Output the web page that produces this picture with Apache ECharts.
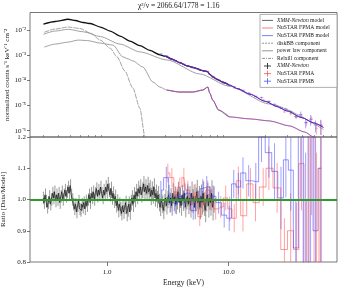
<!DOCTYPE html>
<html><head><meta charset="utf-8">
<script src="https://cdn.jsdelivr.net/npm/echarts@6/dist/echarts.min.js"></script>
<style>html,body{margin:0;padding:0;background:#fff}#c{width:344px;height:291px}</style>
</head><body><div id="c"></div>
<script>
// ---------------- data (energies in keV, fluxes as log10 of normalized counts) ----------------
const xmmModelE    = [0.30,0.375,0.48,0.55,0.64,0.73,0.88,1.06,1.28,1.54,1.86,2.25,2.72,3.0,3.5,4.0,4.5,5.0,5.5,6.0,6.4,6.7,7.0,7.5,8.0,9.0,10];
const xmmModelLogF = [-1.75,-1.65,-1.56,-1.61,-1.69,-1.73,-1.87,-2.03,-2.23,-2.43,-2.61,-2.80,-2.98,-3.03,-3.17,-3.30,-3.41,-3.47,-3.53,-3.60,-3.63,-3.65,-3.76,-3.87,-3.95,-4.07,-4.17];

const nuModelE    = [3.0,3.5,4.0,4.5,5.0,5.5,6.0,6.4,6.7,7.0,7.5,8.0,9.0,10,12,15,20,25,30,40,50,60];
const nuModelLogF = [-3.03,-3.17,-3.30,-3.41,-3.47,-3.53,-3.60,-3.63,-3.65,-3.76,-3.87,-3.95,-4.07,-4.17,-4.34,-4.55,-4.83,-5.04,-5.21,-5.48,-5.69,-5.87];

const powE    = [0.30,0.375,0.48,0.64,0.88,1.28,1.86,3.1,5.78,10,21.7,60];
const powLogF = [-2.16,-2.03,-1.96,-2.06,-2.25,-2.55,-2.86,-3.18,-3.74,-4.22,-4.94,-5.95];

const diskE    = [0.305,0.375,0.48,0.60,0.73,0.88,1.06,1.21,1.40,1.63,1.86,2.05,2.2];
const diskLogF = [-2.08,-1.95,-1.87,-1.93,-2.11,-2.39,-2.71,-3.06,-3.62,-4.30,-5.10,-6.25,-7.0];

const relE    = [0.305,0.375,0.48,0.58,0.69,0.88,1.12,1.35,1.49,1.63,1.97,2.38,2.72,3.1,3.96,5.06,6.12,6.73,6.99,7.39,8.28,10.2,14.9,21.7,31.6,42,50.6,60];
const relLogF = [-2.67,-2.55,-2.47,-2.39,-2.41,-2.51,-2.59,-3.06,-3.14,-3.22,-3.46,-4.06,-4.26,-4.38,-4.46,-4.46,-4.38,-4.26,-4.50,-4.78,-5.18,-5.45,-5.53,-5.61,-5.81,-6.05,-6.27,-6.5];

// XMM-Newton ratio data
const xmmE = [
  0.300,0.306,0.312,0.318,0.325,0.331,0.338,0.345,0.352,0.359,
  0.366,0.373,0.381,0.388,0.396,0.404,0.412,0.420,0.429,0.437,
  0.446,0.455,0.464,0.473,0.483,0.493,0.502,0.512,0.523,0.533,
  0.544,0.555,0.566,0.577,0.589,0.600,0.612,0.625,0.637,0.650,
  0.663,0.676,0.690,0.704,0.718,0.732,0.747,0.762,0.777,0.792,
  0.808,0.825,0.841,0.858,0.875,0.892,0.910,0.929,0.947,0.966,
  0.985,1.005,1.025,1.046,1.067,1.088,1.110,1.132,1.155,1.178,
  1.201,1.225,1.250,1.275,1.300,1.326,1.353,1.380,1.408,1.436,
  1.465,1.494,1.524,1.554,1.585,1.617,1.650,1.683,1.716,1.751,
  1.786,1.821,1.858,1.895,1.933,1.971,2.011,2.051,2.092,2.134,
  2.177,2.220,2.265,2.310,2.356,2.403,2.451,2.500,2.550,2.601,
  2.653,2.706,2.760,2.816,2.872,2.929,2.988,3.048,3.109,3.171,
  3.234,3.299,3.365,3.432,3.501,3.571,3.642,3.715,3.790,3.865,
  3.943,4.02,4.10,4.18,4.27,4.35,4.44,4.53,4.62,4.71,
  4.81,4.90,5.00,5.10,5.20,5.31,5.41,5.52,5.63,5.75,
  5.86,5.98,6.10,6.22,6.35,6.47,6.60,6.74,6.87,7.01,
  7.15,7.29,7.44,7.59];
const xmmRatio = [
  1.005,0.99,1.015,0.995,0.975,0.99,1.01,0.985,1.0,1.02,
  1.005,1.025,0.995,1.015,1.0,1.02,0.99,1.01,1.025,1.0,
  1.015,1.03,1.01,1.025,1.04,1.02,1.045,1.015,1.0,0.985,
  0.97,0.985,0.96,0.98,0.995,0.97,0.965,0.985,0.975,0.99,
  0.97,0.995,0.98,1.0,1.015,0.99,1.02,1.005,1.025,1.0,
  1.02,1.035,1.01,1.03,1.015,1.04,1.02,1.005,1.03,1.015,
  1.04,1.025,1.05,1.03,1.015,1.035,1.005,1.02,0.995,1.01,
  0.98,0.995,0.965,0.985,0.97,0.955,0.98,0.96,0.975,0.99,
  0.955,0.97,0.985,0.96,0.99,1.005,0.985,1.015,1.0,1.025,
  1.01,1.035,1.02,1.04,1.015,1.03,1.05,1.025,1.04,1.02,
  1.045,1.025,1.035,1.01,1.03,1.015,1.04,1.005,1.02,1.0,
  1.015,0.99,0.975,1.0,0.985,0.965,0.99,1.005,0.98,1.0,
  1.015,0.99,1.005,0.98,1.02,0.995,1.01,0.985,1.0,1.025,
  0.99,1.005,0.98,1.015,0.995,1.02,0.975,1.0,1.01,0.985,
  1.005,0.98,1.02,0.995,1.01,0.975,1.0,1.025,0.99,1.005,
  0.975,1.01,0.99,1.02,0.985,0.965,1.0,1.015,0.98,1.005,
  0.99,1.02,0.975,1.0];
const xmmErr = [
  0.02,0.02,0.02,0.02,0.02,0.02,0.02,0.02,0.02,0.02,
  0.02,0.02,0.02,0.02,0.02,0.02,0.02,0.02,0.02,0.02,
  0.02,0.02,0.02,0.02,0.02,0.02,0.02,0.02,0.02,0.02,
  0.02,0.02,0.02,0.02,0.02,0.02,0.02,0.02,0.02,0.02,
  0.02,0.02,0.02,0.02,0.02,0.02,0.02,0.02,0.02,0.02,
  0.02,0.02,0.02,0.02,0.02,0.02,0.02,0.02,0.02,0.02,
  0.022,0.022,0.022,0.022,0.022,0.022,0.022,0.022,0.022,0.022,
  0.022,0.022,0.022,0.022,0.022,0.022,0.022,0.022,0.022,0.022,
  0.025,0.025,0.025,0.025,0.025,0.025,0.025,0.025,0.025,0.025,
  0.025,0.025,0.025,0.025,0.025,0.025,0.025,0.025,0.025,0.025,
  0.028,0.028,0.028,0.028,0.028,0.028,0.028,0.028,0.028,0.028,
  0.028,0.028,0.028,0.028,0.028,0.028,0.028,0.028,0.028,0.028,
  0.032,0.032,0.032,0.032,0.032,0.032,0.032,0.032,0.032,0.032,
  0.032,0.032,0.032,0.032,0.032,0.032,0.032,0.032,0.032,0.032,
  0.038,0.038,0.038,0.038,0.038,0.038,0.038,0.038,0.038,0.038,
  0.038,0.038,0.038,0.038,0.038,0.038,0.038,0.038,0.038,0.038,
  0.042,0.042,0.042,0.042];

// NuSTAR FPMA
const fpmaE = [3.16,3.41,3.68,3.96,4.28,4.61,4.97,5.36,5.78,6.23,6.72,7.25,7.82,8.6,9.45,10.2,11.1,12.0,13.1,15.1,16.6,19.2,21.4,25.0,28.7,32.3,36.0,39.6,43.6,48.0,52.7,57.9];
const fpmaRatio = [1.085,1.07,1.01,1.04,1.07,1.03,0.99,1.02,0.945,0.99,1.03,1.0,0.97,0.976,1.005,0.97,0.94,1.06,0.948,1.05,0.99,1.04,1.1,1.037,0.84,0.9,0.84,1.115,0.75,1.3,0.7,1.1];
const fpmaErr = [0.03,0.03,0.03,0.03,0.03,0.03,0.03,0.03,0.03,0.03,0.03,0.035,0.035,0.035,0.04,0.04,0.045,0.045,0.05,0.05,0.06,0.06,0.07,0.08,0.1,0.12,0.15,0.15,0.25,0.35,0.45,0.6];
const fpmaLogF = [-3.04,-3.12,-3.22,-3.27,-3.34,-3.42,-3.47,-3.51,-3.59,-3.62,-3.64,-3.81,-3.94,-4.04,-4.12,-4.20,-4.30,-4.32,-4.44,-4.54,-4.65,-4.77,-4.85,-5.02,-5.25,-5.33,-5.46,-5.42,-5.69,-5.54,-5.90,-5.79];

// NuSTAR FPMB
const fpmbE = [2.77,3.07,3.35,3.64,3.96,4.28,4.61,5.11,5.57,6.12,6.6,7.46,8.26,9.18,10.1,11.0,12.0,13.1,14.6,16.7,18.6,21.4,23.8,26.9,29.5,32.4,35.6,39.1,42.9,47.1,51.7,56.8];
const fpmbRatio = [1.03,1.07,0.99,0.985,1.01,1.0,1.02,0.965,1.0,1.035,1.04,1.01,0.99,0.95,0.94,1.05,1.04,1.085,1.06,1.057,1.2,1.15,1.09,1.005,1.127,1.094,0.845,1.3,0.75,1.25,0.9,1.1];
const fpmbErr = [0.03,0.035,0.03,0.03,0.03,0.03,0.03,0.03,0.03,0.03,0.035,0.035,0.035,0.04,0.04,0.045,0.045,0.05,0.05,0.06,0.08,0.08,0.09,0.1,0.12,0.13,0.15,0.3,0.4,0.45,0.5,0.6];
const fpmbLogF = [-2.94,-3.02,-3.14,-3.22,-3.29,-3.37,-3.42,-3.50,-3.54,-3.60,-3.63,-3.86,-3.99,-4.11,-4.21,-4.24,-4.32,-4.39,-4.50,-4.63,-4.68,-4.83,-4.95,-5.10,-5.14,-5.24,-5.44,-5.35,-5.68,-5.54,-5.77,-5.77];

// tick definitions and texts
const fluxTickExp = [-6,-5,-4,-3,-2];
const energyMajor = [1, 10];
const energyMinor = [0.3,0.4,0.5,0.6,0.7,0.8,0.9,2,3,4,5,6,7,8,9,20,30,40,50,60,70];
const titleText = 'χ²/ν = 2066.64/1778 = 1.16';
const fluxName = 'normalized counts s⁻¹ keV⁻¹ cm⁻²';

// ---------------- chart ----------------
const LOG = Math.log10;
const XMIN = -0.633, XMAX = 1.89;
const YMIN = -6.251, YMAX = -1.291;
const RMIN = 0.8, RMAX = 1.2;
const FONT = 'Liberation Serif';
const SUP = {'-':'⁻','0':'⁰','1':'¹','2':'²','3':'³','4':'⁴','5':'⁵','6':'⁶','7':'⁷','8':'⁸','9':'⁹'};
const sup = s => String(s).split('').map(c => SUP[c] || c).join('');

const pairs = (E, V) => E.map((e, i) => [LOG(e), V[i]]);
const clamp = (v, a, b) => Math.max(a, Math.min(b, v));

function barRender(color, lw, capHalf, lo, hi) {
  return function (params, api) {
    const x = api.value(0), y = api.value(1);
    const y1 = clamp(api.value(2), lo, hi), y2 = clamp(api.value(3), lo, hi);
    const a = api.coord([x, y1]), b = api.coord([x, y2]);
    const ch = [{type: 'line', shape: {x1: a[0], y1: a[1], x2: b[0], y2: b[1]}, style: {stroke: color, lineWidth: lw}}];
    if (capHalf && y >= lo && y <= hi) {
      const c = api.coord([x, y]);
      ch.push({type: 'line', shape: {x1: c[0] - capHalf, y1: c[1], x2: c[0] + capHalf, y2: c[1]}, style: {stroke: color, lineWidth: lw}});
    }
    return {type: 'group', children: ch};
  };
}

function lineSeries(data, color, width, opts) {
  return Object.assign({
    type: 'line', xAxisIndex: 0, yAxisIndex: 0, data: data, symbol: 'none', silent: true,
    lineStyle: {color: color, width: width}, smooth: 0.25, smoothMonotone: 'x', animation: false, clip: true
  }, opts || {});
}

const RED = 'rgba(255,70,70,0.6)';
const BLUE = 'rgba(60,60,255,0.6)';
const BLK = 'rgba(0,0,0,0.85)';
const GRAY = '#8a8a8a';

const ratioErr = (E, R, Er) => E.map((e, i) => [LOG(e), R[i], R[i] - Er[i], R[i] + Er[i]]);
const topErr = (E, F, Er) => E.map((e, i) => [LOG(e), F[i], F[i] + LOG(Math.max(1 - Er[i], 1e-3)), F[i] + LOG(1 + Er[i])]);

const series = [
  // top panel
  lineSeries(pairs(diskE, diskLogF), GRAY, 0.8, {lineStyle: {color: GRAY, width: 0.8, type: [5, 1]}}),
  lineSeries(pairs(powE, powLogF), GRAY, 0.8),
  lineSeries(pairs(relE.slice(0, 22), relLogF.slice(0, 22)), GRAY, 0.8),
  lineSeries(pairs(relE.slice(13), relLogF.slice(13)), 'rgba(230,80,80,0.8)', 0.9),
  lineSeries(pairs(relE.slice(13), relLogF.slice(13)), 'rgba(90,70,235,0.6)', 0.9),
  lineSeries(pairs(xmmModelE, xmmModelLogF), '#111', 1.3),
  {type: 'custom', xAxisIndex: 0, yAxisIndex: 0, clip: true, silent: true, animation: false,
   renderItem: barRender('rgba(255,80,80,0.6)', 0.7, 1.5, YMIN, YMAX), encode: {x: 0, y: 1},
   data: topErr(fpmaE, fpmaLogF, fpmaErr)},
  lineSeries(pairs(nuModelE, nuModelLogF), 'rgba(255,70,70,0.9)', 1.0),
  {type: 'custom', xAxisIndex: 0, yAxisIndex: 0, clip: true, silent: true, animation: false,
   renderItem: barRender('rgba(70,70,255,0.7)', 0.7, 1.8, YMIN, YMAX), encode: {x: 0, y: 1},
   data: topErr(fpmbE, fpmbLogF, fpmbErr)},
  lineSeries(pairs(nuModelE, nuModelLogF), 'rgba(40,40,230,0.95)', 1.0),

  // bottom panel
  {type: 'custom', xAxisIndex: 1, yAxisIndex: 1, clip: true, silent: true, animation: false,
   renderItem: barRender('rgba(0,0,0,0.5)', 0.8, 0, RMIN, RMAX), encode: {x: 0, y: 1},
   data: ratioErr(xmmE, xmmRatio, xmmErr)},
  {type: 'line', xAxisIndex: 1, yAxisIndex: 1, step: 'middle', symbol: 'none', silent: true, animation: false,
   data: pairs(xmmE, xmmRatio), lineStyle: {color: BLK, width: 0.7}},
  {type: 'custom', xAxisIndex: 1, yAxisIndex: 1, clip: true, silent: true, animation: false,
   renderItem: barRender('rgba(255,90,90,0.55)', 1.0, 0, RMIN, RMAX), encode: {x: 0, y: 1},
   data: ratioErr(fpmaE, fpmaRatio, fpmaErr)},
  {type: 'line', xAxisIndex: 1, yAxisIndex: 1, step: 'middle', symbol: 'none', silent: true, animation: false,
   data: pairs(fpmaE, fpmaRatio), lineStyle: {color: RED, width: 0.9}},
  {type: 'custom', xAxisIndex: 1, yAxisIndex: 1, clip: true, silent: true, animation: false,
   renderItem: barRender('rgba(80,80,255,0.55)', 1.0, 0, RMIN, RMAX), encode: {x: 0, y: 1},
   data: ratioErr(fpmbE, fpmbRatio, fpmbErr)},
  {type: 'line', xAxisIndex: 1, yAxisIndex: 1, step: 'middle', symbol: 'none', silent: true, animation: false,
   data: pairs(fpmbE, fpmbRatio), lineStyle: {color: BLUE, width: 0.9},
   markLine: {silent: true, symbol: 'none', label: {show: false}, animation: false,
     lineStyle: {color: '#2e9a2e', width: 2.2, type: 'solid'}, data: [{yAxis: 1}]}}
];

const axisTxt = {fontFamily: FONT, fontSize: 7, color: '#222'};
const gridBase = {left: 30, width: 307, show: true, borderColor: '#555', borderWidth: 0.8, backgroundColor: 'transparent',
                  containLabel: false, outerBoundsMode: 'none'};
const option = {
  animation: false,
  backgroundColor: '#fff',
  grid: [
    Object.assign({top: 12.5, height: 124.5}, gridBase),
    Object.assign({top: 137, height: 125}, gridBase)
  ],
  xAxis: [
    {type: 'value', gridIndex: 0, min: XMIN, max: XMAX, axisLine: {show: false, onZero: false}, axisTick: {show: false}, axisLabel: {show: false}, splitLine: {show: false}},
    {type: 'value', gridIndex: 1, min: XMIN, max: XMAX, axisLine: {show: false, onZero: false}, splitLine: {show: false},
     axisTick: {show: true, length: 4, lineStyle: {color: '#555', width: 0.8}, customValues: energyMajor.map(LOG)},
     axisLabel: Object.assign({show: true, margin: 7, customValues: energyMajor.map(LOG), formatter: v => Math.pow(10, v).toFixed(1)}, axisTxt),
     name: 'Energy (keV)', nameLocation: 'middle', nameGap: 17, nameTextStyle: {fontFamily: FONT, fontSize: 7.5, color: '#222'}},
    {type: 'value', gridIndex: 1, min: XMIN, max: XMAX, axisLine: {show: false, onZero: false}, splitLine: {show: false},
     axisTick: {show: true, length: 2, lineStyle: {color: '#555', width: 0.6}, customValues: energyMinor.map(LOG)},
     axisLabel: {show: false}}
  ],
  yAxis: [
    {type: 'value', gridIndex: 0, min: YMIN, max: YMAX, axisLine: {show: false, onZero: false}, splitLine: {show: false},
     axisTick: {show: true, length: 3, lineStyle: {color: '#555', width: 0.8}, customValues: fluxTickExp},
     axisLabel: Object.assign({show: true, margin: 4, customValues: fluxTickExp, formatter: v => '10' + sup(Math.round(v))}, axisTxt)},
    {type: 'value', gridIndex: 1, min: RMIN, max: RMAX, interval: 0.1, axisLine: {show: false, onZero: false}, splitLine: {show: false},
     axisTick: {show: true, length: 3, lineStyle: {color: '#555', width: 0.8}},
     axisLabel: Object.assign({show: true, margin: 4, formatter: v => v.toFixed(1)}, axisTxt),
     name: 'Ratio [Data/Model]', nameLocation: 'middle', nameRotate: 90, nameGap: 14,
     nameTextStyle: {fontFamily: FONT, fontSize: 7, color: '#222'}}
  ],
  series: series,
  graphic: []
};

// title and flux-axis name
option.graphic.push({type: 'text', left: 184 - 46, top: 2, style: {text: titleText, font: '7.5px "Liberation Serif"', fill: '#222'}});
option.graphic.push({type: 'text', x: 7.5, y: 75, rotation: Math.PI / 2,
  style: {text: fluxName, align: 'center', verticalAlign: 'middle', font: '7px "Liberation Serif"', fill: '#222'}});

// legend (drawn as graphic, real text)
const legendRows = [
  {kind: 'line', color: '#555', dash: null, rich: '{i|XMM-Newton} model'},
  {kind: 'line', color: '#ff7070', dash: null, rich: 'NuSTAR FPMA model'},
  {kind: 'line', color: '#7070ff', dash: null, rich: 'NuSTAR FPMB model'},
  {kind: 'line', color: GRAY, dash: [2, 1], rich: 'diskBB component'},
  {kind: 'line', color: GRAY, dash: null, rich: 'power law component'},
  {kind: 'line', color: GRAY, dash: [3, 1, 1, 1], rich: 'Relxill component'},
  {kind: 'cross', color: '#111', rich: '{i|XMM-Newton}'},
  {kind: 'cross', color: '#ff5050', rich: 'NuSTAR FPMA'},
  {kind: 'cross', color: '#5050ff', rich: 'NuSTAR FPMB'}
];
const leg = {type: 'group', left: 259.5, top: 14, children: [
  {type: 'rect', shape: {x: 0, y: 0, width: 77, height: 73}, style: {fill: '#fff', stroke: '#9a9a9a', lineWidth: 0.8}, z: 100}
]};
legendRows.forEach((r, i) => {
  const cy = 6 + i * 7.6;
  if (r.kind === 'line') {
    leg.children.push({type: 'line', shape: {x1: 2, y1: cy, x2: 13, y2: cy}, style: {stroke: r.color, lineWidth: 0.9, lineDash: r.dash || null}, z: 101});
  } else {
    leg.children.push({type: 'line', shape: {x1: 4, y1: cy, x2: 11, y2: cy}, style: {stroke: r.color, lineWidth: 0.8}, z: 101});
    leg.children.push({type: 'line', shape: {x1: 7.5, y1: cy - 3, x2: 7.5, y2: cy + 3}, style: {stroke: r.color, lineWidth: 0.8}, z: 101});
  }
  leg.children.push({type: 'text', x: 17, y: cy, z: 101, style: {
    text: r.rich, verticalAlign: 'middle', font: '5.6px "Liberation Serif"', fill: '#222',
    rich: {i: {fontStyle: 'italic', fontFamily: FONT, fontSize: 5.6, fill: '#222'}}
  }});
});
option.graphic.push(leg);

const chart = echarts.init(document.getElementById('c'), null, {renderer: 'canvas', width: 344, height: 291});
chart.setOption(option);
</script></body></html>
